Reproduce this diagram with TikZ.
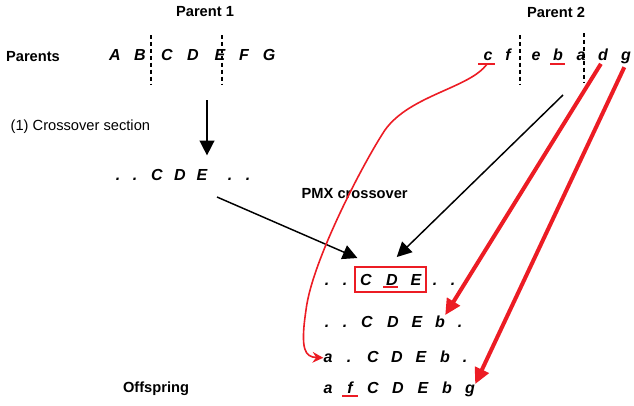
\documentclass[tikz,border=0pt]{standalone}
\usepackage{fontspec}
\setmainfont{Liberation Sans}
\usetikzlibrary{arrows.meta,fit}
\definecolor{pmxred}{HTML}{EC1C24}
\begin{document}
\begin{tikzpicture}[x=0.75pt,y=-0.75pt,
 title/.style={font=\fontsize{11}{13}\selectfont\bfseries},
 gene/.style={font=\fontsize{12}{14}\selectfont\bfseries\itshape,inner sep=0pt,anchor=base},
 cutline/.style={line width=1.3pt,dash pattern=on 3pt off 2.2pt},
 push/.style={line width=1.1pt,-{Triangle[length=11pt,width=11pt]}},
 redarrow/.style={pmxred,line width=3pt,-{Triangle[length=12pt,width=11pt]}},
 thinred/.style={pmxred,line width=1.2pt,-{Stealth[length=8pt,width=8pt]}},
 uline/.style={pmxred,line width=1.5pt}]
\useasboundingbox (0,0) rectangle (634,405);
\node[title] (par1) at (205,12) {Parent 1};
\node[title] (par2) at (556,12) {Parent 2};
\node[title] (parents) at (33,57) {Parents};
\node[font=\fontsize{11}{13}\selectfont,anchor=west] (xsec) at (6,127) {(1) Crossover section};
\node[title,anchor=west] (pmx) at (297,194) {PMX crossover};
\node[title] (offspring) at (156,389) {Offspring};
% parents
\foreach \g/\x in {A/115,B/140,C/167,D/193,E/220,F/244,G/269}
 \node[gene] (p1\g) at (\x,60) {\g};
\foreach \g/\x in {c/488,f/508,e/536,b/558,a/581,d/603,g/626}
 \node[gene] (p2\g) at (\x,60) {\g};
\foreach \x/\a/\b in {151/35/85,222/35/85,520/35/85,584/33/83}
 \draw[cutline] (\x,\a) -- (\x,\b);
% crossover section
\foreach \n/\t/\x in {1/./118,2/./135,3/C/157,4/D/180,5/E/202,6/./230,7/./248}
 \node[gene] (cs\n) at (\x,180) {\t};
% offspring rows
\foreach \n/\t/\x in {1/./327,2/./345,3/C/366,4/D/392,5/E/416,6/./435,7/./453}
 \node[gene] (o1-\n) at (\x,285) {\t};
\foreach \n/\t/\x in {1/./327,2/./345,3/C/367,4/D/393,5/E/417,6/b/440,7/./460}
 \node[gene] (o2-\n) at (\x,327) {\t};
\foreach \n/\t/\x in {1/a/328,2/./349,3/C/373,4/D/397,5/E/421,6/b/445,7/./465}
 \node[gene] (o3-\n) at (\x,362) {\t};
\foreach \n/\t/\x in {1/a/328,2/f/350,3/C/373,4/D/398,5/E/423,6/b/447,7/g/470}
 \node[gene] (o4-\n) at (\x,393) {\t};
\node[draw=pmxred,line width=1.3pt,fit=(o1-3)(o1-5),inner xsep=3.5pt,inner ysep=5pt] (crossbox) {};
% underlines
\draw[uline] ([shift={(-10,4)}]p2c.base) -- ([shift={(7,4)}]p2c.base);
\draw[uline] ([shift={(-8,4)}]p2b.base) -- ([shift={(7,4)}]p2b.base);
\draw[uline] ([shift={(-9,2)}]o1-4.base) -- ([shift={(6,2)}]o1-4.base);
\draw[uline] ([shift={(-8,3)}]o4-2.base) -- ([shift={(8,3)}]o4-2.base);
% arrows
\coordinate (drop) at (207,100);
\draw[push,shorten >=10pt] (drop) -- (drop |- cs5.north);
\coordinate (csout) at (217,197);
\draw[push] (csout) -- ([shift={(3,-8)}]crossbox.north west);
\coordinate (p2out) at (563,95);
\draw[push] (p2out) -- ([shift={(6,-9)}]crossbox.north);
\draw[redarrow,shorten <=3pt] (p2d.south) -- (o2-6.north east);
\draw[redarrow,shorten <=3pt] (p2g.south) -- (o4-7.north east);
\coordinate (cmark) at ([shift={(-1,4)}]p2c.base);
\draw[thinred] (cmark) .. controls (470,88) and (410,95) .. (385,130)
 .. controls (365,160) and (312,260) .. (306,310)
 .. controls (300,350) and (305,357) .. (o3-1.west);
\end{tikzpicture}
\end{document}
